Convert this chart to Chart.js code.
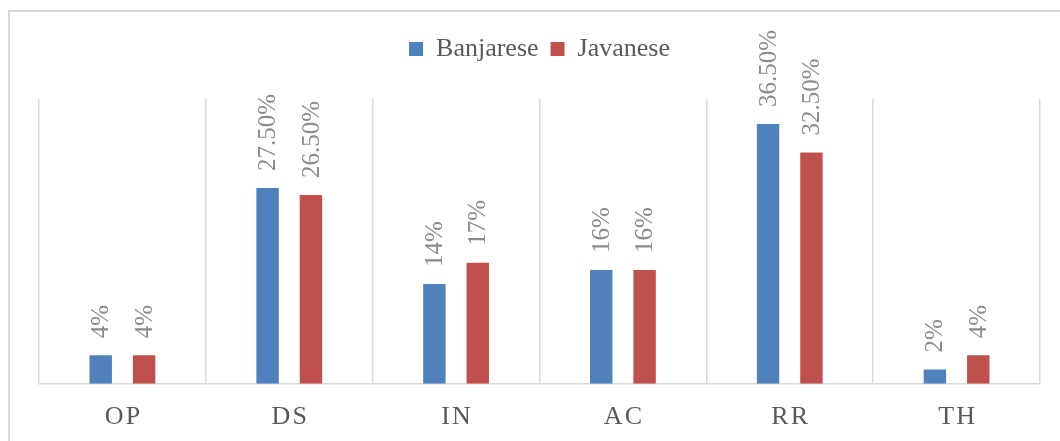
<!DOCTYPE html>
<html>
<head>
<meta charset="utf-8">
<script src="https://cdn.jsdelivr.net/npm/chart.js@4/dist/chart.umd.min.js"></script>
<style>
  html, body { margin: 0; padding: 0; background: #fff; overflow: hidden; }
  #wrap { position: relative; width: 1060px; height: 441px; }
  #frame { position: absolute; left: 8px; top: 10px; width: 1070px; height: 460px;
           border-top: 2px solid #d9d9d9; border-left: 2px solid #d9d9d9; }
  canvas { position: absolute; left: 0; top: 0; }
</style>
</head>
<body>
<div id="wrap">
  <div id="frame"></div>
  <canvas id="chart" width="1060" height="441"></canvas>
</div>
<script>
/* ================================
   DATA
   ================================ */
const categories = ["OP", "DS", "IN", "AC", "RR", "TH"];
const banjarese = [4, 27.5, 14, 16, 36.5, 2];
const javanese = [4, 26.5, 17, 16, 32.5, 4];
const seriesNames = ["Banjarese", "Javanese"];

const SERIF = "'Liberation Serif', 'Times New Roman', serif";

// "4%" for whole numbers, "27.50%" otherwise (as in the source)
function pct(v) {
  return Number.isInteger(v) ? v + "%" : v.toFixed(2) + "%";
}

/**
 * Rotated value labels above each bar
 */
const barLabels = {
  id: "barLabels",
  afterDatasetsDraw(chart) {
    const ctx = chart.ctx;
    ctx.save();
    ctx.font = "25px " + SERIF;
    ctx.fillStyle = "#8c8c8c";
    ctx.textAlign = "left";
    ctx.textBaseline = "middle";
    chart.data.datasets.forEach((ds, i) => {
      chart.getDatasetMeta(i).data.forEach((bar, j) => {
        ctx.save();
        ctx.translate(bar.x + 1, bar.y - 17);
        ctx.rotate(-Math.PI / 2);
        ctx.fillText(pct(ds.data[j]), 0, 0);
        ctx.restore();
      });
    });
    ctx.restore();
  }
};

// extra space under the legend
const legendGap = {
  id: "legendGap",
  beforeInit(chart) {
    const fit = chart.legend.fit;
    chart.legend.fit = function () {
      fit.bind(chart.legend)();
      this.height += 27;
    };
  }
};

const ctx = document.getElementById("chart").getContext("2d");
new Chart(ctx, {
  type: "bar",
  data: {
    labels: categories,
    datasets: [
      {
        label: seriesNames[0],
        data: banjarese,
        backgroundColor: "#4F81BD",
        barPercentage: 0.517,
        categoryPercentage: 0.52
      },
      {
        label: seriesNames[1],
        data: javanese,
        backgroundColor: "#C0504D",
        barPercentage: 0.517,
        categoryPercentage: 0.52
      }
    ]
  },
  options: {
    responsive: false,
    animation: false,
    devicePixelRatio: 1,
    layout: { padding: { top: 24, left: 39, right: 20, bottom: -10 } },
    plugins: {
      legend: {
        position: "top",
        labels: {
          boxWidth: 14,
          boxHeight: 14,
          padding: 12,
          color: "#595959",
          font: { family: SERIF, size: 26 }
        }
      },
      tooltip: { enabled: false }
    },
    scales: {
      x: {
        grid: { display: true, offset: true, color: "#d9d9d9", lineWidth: 1.5, drawTicks: false },
        border: { color: "#d9d9d9", width: 1.5 },
        ticks: {
          color: "#595959",
          padding: 18,
          font: { family: SERIF, size: 26 },
          callback: function (v) { return this.getLabelForValue(v).split("").join("\u200A"); }
        }
      },
      y: {
        display: false,
        min: 0,
        max: 40
      }
    }
  },
  plugins: [barLabels, legendGap]
});
</script>
</body>
</html>
